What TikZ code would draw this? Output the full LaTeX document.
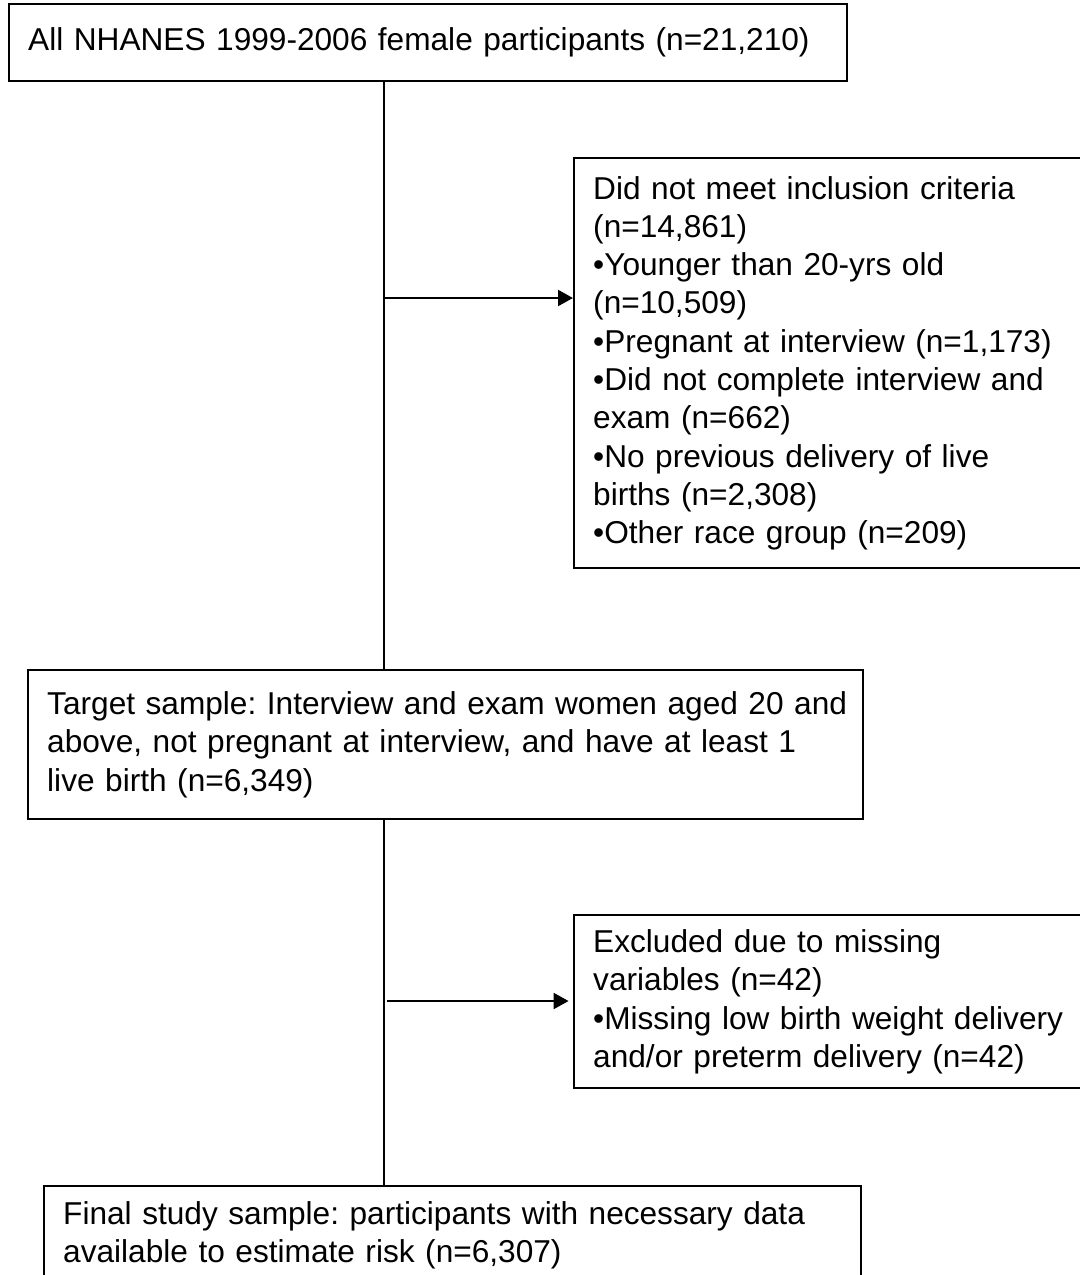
\documentclass[tikz,border=0pt]{standalone}
\usepackage{fontspec}
\setmainfont{Liberation Sans}
\usepackage{tikz}
\usetikzlibrary{arrows.meta}

\begin{document}
\frenchspacing
\begin{tikzpicture}[x=0.02cm,y=-0.02cm,
  box/.style={draw,line width=1.4pt,anchor=north west,align=left,
    inner xsep=0.38cm,inner ysep=0pt,
    font=\fontsize{18}{21.8}\selectfont},
  flow/.style={line width=1.4pt},
  arr/.style={line width=1.4pt,-{Triangle[length=8.5pt,width=9pt]}}]

\useasboundingbox (0,0) rectangle (1079,1275);

%========================
% Caselle
%========================

% popolazione iniziale
\node[box,text width=16cm,minimum height=1.54cm] (top) at (8,3)
  {All NHANES 1999-2006 female participants (n=21,210)};

% esclusi (criteri)
\node[box,text width=9.48cm,minimum height=8.2cm] (excl1) at (573,157)
  {Did not meet inclusion criteria\\
   (n=14,861)\\
   •Younger than 20-yrs old\\
   (n=10,509)\\
   •Pregnant at interview (n=1,173)\\
   •Did not complete interview and\\
   exam (n=662)\\
   •No previous delivery of live\\
   births (n=2,308)\\
   •Other race group (n=209)};

% campione target
\node[box,text width=15.94cm,minimum height=2.98cm] (target) at (27,669)
  {\mbox{Target sample: Interview and exam women aged 20 and}\\
   above, not pregnant at interview, and have at least 1\\
   live birth (n=6,349)};

% esclusi (variabili mancanti)
\node[box,text width=9.48cm,minimum height=3.46cm] (excl2) at (573,914)
  {Excluded due to missing\\
   variables (n=42)\\
   •Missing low birth weight delivery\\
   and/or preterm delivery (n=42)};

% campione finale
\node[box,text width=15.58cm,minimum height=1.96cm] (final) at (43,1185)
  {Final study sample: participants with necessary data\\
   available to estimate risk (n=6,307)};

%========================
% Linee e frecce
%========================

\coordinate (j1) at (384,298);
\coordinate (j2) at (384,1001);

% asse verticale
\draw[flow] (top.south -| j1) -- (target.north -| j1);
\draw[flow] (target.south -| j1) -- (final.north -| j1);

% frecce verso gli esclusi
\draw[arr] (j1) -- (excl1.west |- j1);
\draw[arr,shorten <=1.7pt,shorten >=2.5pt] (j2) -- (excl2.west |- j2);

\end{tikzpicture}
\end{document}
